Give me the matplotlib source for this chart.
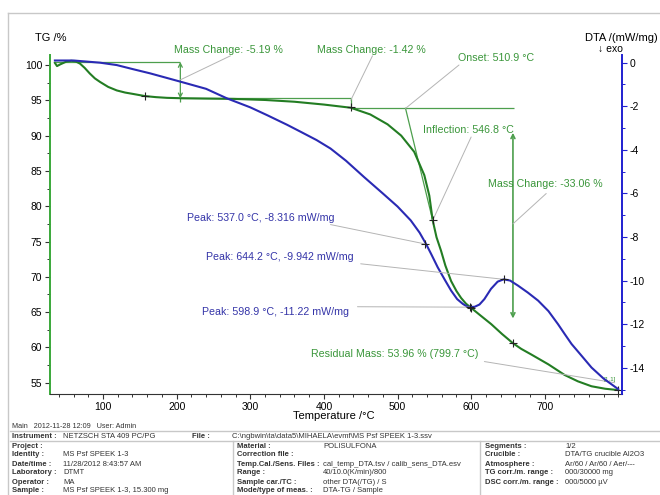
import matplotlib
matplotlib.use('Agg')
import matplotlib.pyplot as plt
from matplotlib.ticker import MultipleLocator, FixedLocator
from matplotlib.lines import Line2D

plt.rcParams['font.family'] = ['Liberation Sans', 'DejaVu Sans']
plt.rcParams['axes.unicode_minus'] = False

# ---- TG curve (mass %) ----
tg_temp = [34.6, 37.5, 42, 50.5, 57, 63, 68.7, 75, 82, 89, 96, 107, 118.7, 130, 141, 157,
           172, 187, 205, 240, 277.6, 320, 360, 400, 436.5, 463, 486.5, 505, 522.7, 536.4,
           543.2, 547.8, 553, 559.1, 565, 572.8, 580, 586.4, 593, 600, 613, 627.3, 642,
           656.8, 668, 681.7, 705, 727, 745, 763.5, 782, 799.7]
tg_mass = [100.3, 99.85, 100.1, 100.5, 100.6, 100.5, 100.2, 99.6, 98.8, 98.1, 97.6, 96.9,
           96.4, 96.1, 95.9, 95.6, 95.45, 95.35, 95.3, 95.25, 95.2, 95.05, 94.8, 94.4, 93.95,
           93.0, 91.6, 90.0, 87.7, 84.4, 81.5, 78.0, 75.6, 73.7, 71.6, 69.4, 68.0, 67.0, 66.2,
           65.6, 64.5, 63.3, 61.9, 60.6, 59.8, 59.0, 57.6, 56.1, 55.2, 54.5, 54.15, 53.96]

# ---- DTA curve (mW/mg) ----
dta_temp = [34.6, 60, 96, 118.7, 141, 164, 205, 240, 268.5, 300, 323, 350, 368.4, 390, 409,
            430, 454.6, 480, 500, 518, 530, 538.7, 546, 554.6, 564, 572.8, 581, 588.7, 595,
            599, 605, 611.3, 618, 627, 636, 644.2, 653, 663.6, 677, 691, 705, 718, 727,
            736.4, 750, 763.5, 780, 799.7]
dta_val = [0.1, 0.1, 0.0, -0.11, -0.3, -0.49, -0.87, -1.2, -1.64, -2.05, -2.41, -2.85,
           -3.17, -3.55, -3.94, -4.5, -5.25, -6.0, -6.6, -7.24, -7.8, -8.316, -8.8, -9.39,
           -9.95, -10.46, -10.85, -11.07, -11.2, -11.22, -11.2, -11.1, -10.85, -10.38, -10.05,
           -9.942, -10.0, -10.23, -10.55, -10.92, -11.4, -12.0, -12.45, -12.91, -13.45,
           -13.99, -14.5, -14.98]

# evaluation results
tg_marks_t = [157, 436.5, 547.8, 600, 656.8, 799.7]
tg_marks_v = [95.6, 94.0, 78.0, 65.6, 60.6, 53.96]
peak_t = [537.0, 598.9, 644.2]
peak_v = [-8.316, -11.22, -9.942]

step1_top, step1_bottom, step1_t = 100.43, 95.28, 205
step2_t, step2_bottom = 436.5, 93.86
onset_t, inflection_t, inflection_v = 510.9, 547.8, 78.0

x_labels = [100, 200, 300, 400, 500, 600, 700]

GREEN = '#237d23'
LGREEN = '#4d9f4d'
TGREEN = '#3a963a'
BLUE = '#2a2ab4'
TBLUE = '#3434a8'
GRAY = '#b4b4b4'

fig = plt.figure(figsize=(6.6, 4.95), dpi=100)
ax = fig.add_axes([0.0758, 0.2034, 0.8667, 0.6855])
ax2 = ax.twinx()

ax.set_xlim(28, 805)
ax.set_ylim(53.36, 101.42)
ax2.set_ylim(-15.22, 0.353)

# curves
ax2.plot(dta_temp, dta_val, color=BLUE, lw=1.5, zorder=3)
ax.plot(tg_temp, tg_mass, color=GREEN, lw=1.5, zorder=3)

# markers
ax.plot(tg_marks_t, tg_marks_v, '+', color='#222222', ms=6, mew=0.8, zorder=4)
ax2.plot(peak_t, peak_v, '+', color='#222222', ms=6, mew=0.8, zorder=4)

# mass change constructions
ax.hlines(step1_top, tg_temp[0], step1_t, color=LGREEN, lw=0.9)
ax.annotate('', xy=(step1_t, step1_top), xytext=(step1_t, step1_bottom),
            arrowprops=dict(arrowstyle='<->', color=LGREEN, lw=0.9, mutation_scale=7,
                            shrinkA=0, shrinkB=0))
ax.vlines(step1_t, step1_bottom - 0.5, step1_bottom, color=LGREEN, lw=0.9)
ax.hlines(step1_bottom, step1_t, step2_t, color=LGREEN, lw=0.9)
ax.vlines(step2_t, step2_bottom, step1_bottom, color=LGREEN, lw=0.9)
ax.hlines(step2_bottom, step2_t, 658, color=LGREEN, lw=0.9)
ax.plot([onset_t, inflection_t], [step2_bottom, inflection_v], color=LGREEN, lw=0.9)
ax.annotate('', xy=(656.8, 64.1), xytext=(656.8, 90.4),
            arrowprops=dict(arrowstyle='<->', color=LGREEN, lw=1.2, mutation_scale=7,
                            shrinkA=0, shrinkB=0))

# leaders + labels (TG)
fs = 7.7
def leader(a, start, end):
    a.annotate('', xy=end, xytext=start,
               arrowprops=dict(arrowstyle='-', color=GRAY, lw=0.7, shrinkA=0, shrinkB=0),
               annotation_clip=False)

leader(ax, (273, 101.3), (step1_t, 97.9))
ax.text(196.5, 102.1, 'Mass Change: -5.19 %', color=TGREEN, fontsize=fs, va='center', clip_on=False)
leader(ax, (466, 101.3), (step2_t, 95.0))
ax.text(390, 102.1, 'Mass Change: -1.42 %', color=TGREEN, fontsize=fs, va='center', clip_on=False)
leader(ax, (583.5, 100.0), (onset_t, step2_bottom))
ax.text(582, 101.0, 'Onset: 510.9 °C', color=TGREEN, fontsize=fs, va='center')
leader(ax, (600, 89.8), (inflection_t, inflection_v))
ax.text(534.5, 90.75, 'Inflection: 546.8 °C', color=TGREEN, fontsize=fs, va='center')
leader(ax, (702, 81.8), (656.8, 77.5))
ax.text(623, 83.1, 'Mass Change: -33.06 %', color=TGREEN, fontsize=fs, va='center')
leader(ax, (618, 58.0), (795, 55.0))
ax.text(382, 59.0, 'Residual Mass: 53.96 % (799.7 °C)', color=TGREEN, fontsize=fs, va='center')
ax.text(780, 55.5, '[1.1]', color=TGREEN, fontsize=4.5, va='center')

# leaders + labels (DTA)
leader(ax2, (409, -7.43), (peak_t[0], peak_v[0]))
ax2.text(213.4, -7.11, 'Peak: 537.0 °C, -8.316 mW/mg', color=TBLUE, fontsize=fs, va='center')
leader(ax2, (450, -9.23), (peak_t[2], peak_v[2]))
ax2.text(240.4, -8.94, 'Peak: 644.2 °C, -9.942 mW/mg', color=TBLUE, fontsize=fs, va='center')
leader(ax2, (445.6, -11.2), (peak_t[1], peak_v[1]))
ax2.text(235, -11.43, 'Peak: 598.9 °C, -11.22 mW/mg', color=TBLUE, fontsize=fs, va='center')

# axes styling
for s in ['top', 'right']:
    ax.spines[s].set_visible(False)
for s in ['top', 'left', 'bottom']:
    ax2.spines[s].set_visible(False)
ax.spines['left'].set_color('#3aa83a')
ax.spines['left'].set_linewidth(1.4)
ax.spines['bottom'].set_color('#333333')
ax2.spines['right'].set_color('#2020d0')
ax2.spines['right'].set_linewidth(1.4)

ax.xaxis.set_major_locator(FixedLocator(x_labels))
ax.xaxis.set_minor_locator(MultipleLocator(20))
ax.yaxis.set_major_locator(MultipleLocator(5))
ax.yaxis.set_minor_locator(MultipleLocator(2.5))
ax2.yaxis.set_major_locator(MultipleLocator(2))
ax2.yaxis.set_minor_locator(MultipleLocator(1))
ax.tick_params(which='major', direction='out', length=3.5, width=0.8, labelsize=7.5, pad=2,
               color='#333333')
ax.tick_params(which='minor', direction='out', length=2, width=0.7, color='#333333')
ax2.tick_params(which='major', direction='out', length=3.5, width=0.8, labelsize=7.5, pad=2,
                color='#2020d0')
ax2.tick_params(which='minor', direction='out', length=2, width=0.7, color='#2020d0')

fig.text(35 / 660, 1 - 38 / 495, 'TG /%', fontsize=8, va='center')
fig.text(585 / 660, 1 - 38 / 495, 'DTA /(mW/mg)', fontsize=8, va='center')
fig.text(598 / 660, 1 - 49 / 495, '↓ exo', fontsize=7.5, va='center')
fig.text(334 / 660, 1 - 416 / 495, 'Temperature /°C', fontsize=8, ha='center', va='center')

# ---- info panel ----
def fy(y):
    return 1 - y / 495

frame = '#c8c8c8'
fig.add_artist(Line2D([8 / 660, 8 / 660], [0, fy(13)], color=frame, lw=1))
fig.add_artist(Line2D([8 / 660, 1], [fy(13), fy(13)], color=frame, lw=1))
fig.add_artist(Line2D([10 / 660, 1], [fy(431), fy(431)], color=frame, lw=1))
fig.add_artist(Line2D([10 / 660, 1], [fy(441), fy(441)], color=frame, lw=1))
fig.add_artist(Line2D([233 / 660, 233 / 660], [0, fy(441)], color=frame, lw=1))
fig.add_artist(Line2D([480 / 660, 480 / 660], [0, fy(441)], color=frame, lw=1))

pfs = 5.5
tc = '#333333'
fig.text(12 / 660, fy(426), 'Main   2012-11-28 12:09   User: Admin', fontsize=5.2, color=tc, va='center')
fig.text(12 / 660, fy(436), 'Instrument :', fontsize=pfs, color=tc, va='center', weight='bold')
fig.text(63 / 660, fy(436), 'NETZSCH STA 409 PC/PG', fontsize=pfs, color=tc, va='center')
fig.text(192 / 660, fy(436), 'File :', fontsize=pfs, color=tc, va='center', weight='bold')
fig.text(232 / 660, fy(436), 'C:\\ngbwin\\ta\\data5\\MIHAELA\\evmf\\MS Psf SPEEK 1-3.ssv',
         fontsize=pfs, color=tc, va='center')

col1 = [('Project :', ''), ('Identity :', 'MS Psf SPEEK 1-3'),
        ('Date/time :', '11/28/2012 8:43:57 AM'), ('Laboratory :', 'DTMT'),
        ('Operator :', 'MA'), ('Sample :', 'MS Psf SPEEK 1-3, 15.300 mg')]
col2 = [('Material :', 'POLISULFONA'), ('Correction file :', ''),
        ('Temp.Cal./Sens. Files :', 'cal_temp_DTA.tsv / calib_sens_DTA.esv'),
        ('Range :', '40/10.0(K/min)/800'), ('Sample car./TC :', 'other DTA(/TG) / S'),
        ('Mode/type of meas. :', 'DTA-TG / Sample')]
col3 = [('Segments :', '1/2'), ('Crucible :', 'DTA/TG crucible Al2O3'),
        ('Atmosphere :', 'Ar/60 / Ar/60 / Aer/---'), ('TG corr./m. range :', '000/30000 mg'),
        ('DSC corr./m. range :', '000/5000 µV')]
row_y = [446, 455, 464, 473, 482, 491]
for col, xl, xv in [(col1, 12, 63), (col2, 237, 323), (col3, 485, 565)]:
    for (lab, val), y in zip(col, row_y):
        fig.text(xl / 660, fy(y), lab, fontsize=pfs, color=tc, va='center', weight='bold')
        fig.text(xv / 660, fy(y), val, fontsize=pfs, color=tc, va='center')

fig.savefig('out.png', dpi=100, facecolor='white')
